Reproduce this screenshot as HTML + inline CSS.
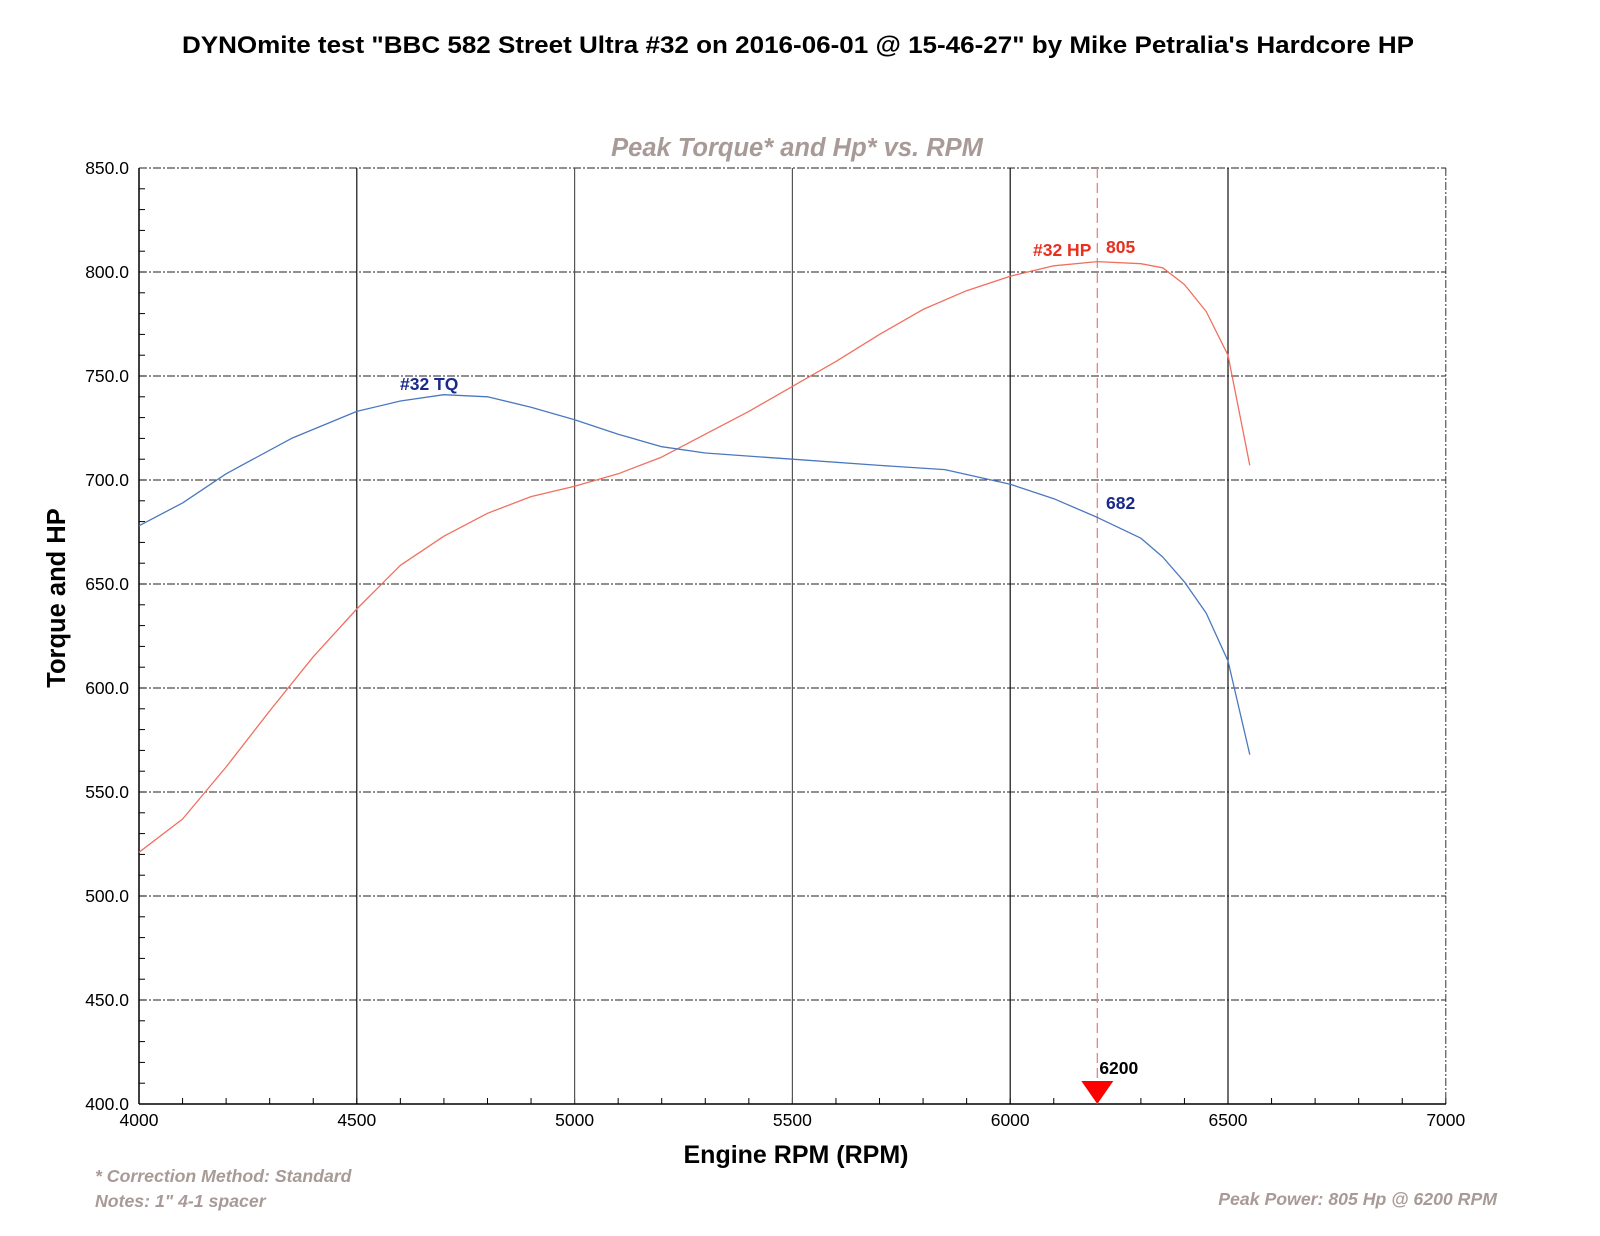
<!DOCTYPE html>
<html><head><meta charset="utf-8"><style>
body{margin:0;background:#fff}
svg{display:block;font-family:"Liberation Sans",Arial,sans-serif}
</style></head><body>
<svg id="s" width="1600" height="1236" viewBox="0 0 1600 1236" xmlns="http://www.w3.org/2000/svg">
<rect width="1600" height="1236" fill="#fff"/>
<text x="798" y="53" text-anchor="middle" font-size="24.5" font-weight="bold" textLength="1232" lengthAdjust="spacingAndGlyphs">DYNOmite test "BBC 582 Street Ultra #32 on 2016-06-01 @ 15-46-27" by Mike Petralia's Hardcore HP</text>
<text x="797" y="156" text-anchor="middle" font-size="25.5" font-weight="bold" font-style="italic" fill="#a89a96">Peak Torque* and Hp* vs. RPM</text>
<g id="g"></g>
<text transform="translate(65,598) rotate(-90)" text-anchor="middle" font-size="25.5" font-weight="bold">Torque and HP</text>
<text x="796" y="1163" text-anchor="middle" font-size="25" font-weight="bold">Engine RPM (RPM)</text>
<text x="95" y="1182" font-size="17.7" font-weight="bold" font-style="italic" fill="#a89a96">* Correction Method: Standard</text>
<text x="95" y="1207" font-size="17.7" font-weight="bold" font-style="italic" fill="#a89a96">Notes: 1" 4-1 spacer</text>
<text x="1497" y="1205" text-anchor="end" font-size="17.7" font-weight="bold" font-style="italic" fill="#a89a96">Peak Power: 805 Hp @ 6200 RPM</text>
</svg>
<script>
var X=function(r){return 139+(r-4000)*0.4356},Y=function(v){return 168+(850-v)*2.08};
var h='';
for(var v=400;v<=850;v+=50){h+='<line x1="139" x2="1446" y1="'+Y(v)+'" y2="'+Y(v)+'" stroke="#222" stroke-width="1" stroke-dasharray="8,2,2,2"/>';
h+='<text x="129" y="'+(Y(v)+6)+'" text-anchor="end" font-size="17.5">'+v.toFixed(1)+'</text>';}
for(var v=400;v<850;v+=10)h+='<line x1="139" x2="145" y1="'+Y(v)+'" y2="'+Y(v)+'" stroke="#000"/>';
for(var r=4000;r<=7000;r+=100)h+='<line x1="'+X(r)+'" x2="'+X(r)+'" y1="'+(Y(400)-6)+'" y2="'+Y(400)+'" stroke="#000"/>';
[4500,5000,5500,6000,6500].forEach(function(r){h+='<line x1="'+X(r)+'" x2="'+X(r)+'" y1="168" y2="'+Y(400)+'" stroke="'+(r==5000||r==5500?'#555':'#111')+'" stroke-width="1.2"/>';});
h+='<line x1="'+X(7000)+'" x2="'+X(7000)+'" y1="168" y2="'+Y(400)+'" stroke="#333" stroke-dasharray="8,2,2,2"/>';
h+='<line x1="139" x2="139" y1="168" y2="'+Y(400)+'" stroke="#000" stroke-width="1.5"/>';
h+='<line x1="139" x2="1446" y1="'+Y(400)+'" y2="'+Y(400)+'" stroke="#000" stroke-width="1.5"/>';
for(var r=4000;r<=7000;r+=500)h+='<text x="'+X(r)+'" y="'+(Y(400)+22)+'" text-anchor="middle" font-size="17.5">'+r+'</text>';
function P(d,c){var s='';for(var i=0;i<d.length;i+=2)s+=(i?'L':'M')+X(d[i]).toFixed(1)+','+Y(d[i+1]).toFixed(1);return '<path d="'+s+'" fill="none" stroke="'+c+'" stroke-width="1.3" stroke-linejoin="round"/>';}
var tq=[4000,678,4100,689,4200,703,4350,720,4500,733,4600,738,4700,741,4800,740,4900,735,5000,729,5100,722,5200,716,5300,713,5500,710,5700,707,5850,705,6000,698,6100,691,6200,682,6300,672,6350,663,6400,651,6450,636,6500,613,6550,568];
var hp=[4000,521,4100,537,4200,562,4300,589,4400,615,4500,638,4600,659,4700,673,4800,684,4900,692,5000,697,5100,703,5200,711,5300,722,5400,733,5500,745,5600,757,5700,770,5800,782,5900,791,6000,798,6100,803,6200,805,6300,804,6350,802,6400,794,6450,781,6500,760,6550,707];
h+='<line x1="'+X(6200)+'" x2="'+X(6200)+'" y1="168" y2="'+Y(400)+'" stroke="#f08080" stroke-width="1.3" stroke-dasharray="10,5"/>';
h+=P(hp,'#f07060')+P(tq,'#4a78c0');
h+='<path d="M'+(X(6200)-16)+','+(Y(400)-23)+'L'+(X(6200)+16)+','+(Y(400)-23)+'L'+X(6200)+','+Y(400)+'Z" fill="#f00"/>';
h+='<text x="'+(X(6200)+2)+'" y="'+(Y(400)-30)+'" font-size="17.5" font-weight="bold">6200</text>';
h+='<text x="400" y="390" font-size="17.5" font-weight="bold" fill="#1a2a8a">#32 TQ</text>';
h+='<text x="1106" y="509" font-size="17.5" font-weight="bold" fill="#1a2a8a">682</text>';
h+='<text x="1033" y="256" font-size="17.5" font-weight="bold" fill="#e83020">#32 HP</text>';
h+='<text x="1106" y="253" font-size="17.5" font-weight="bold" fill="#e83020">805</text>';
document.getElementById('g').innerHTML=h;
</script>
</body></html>
